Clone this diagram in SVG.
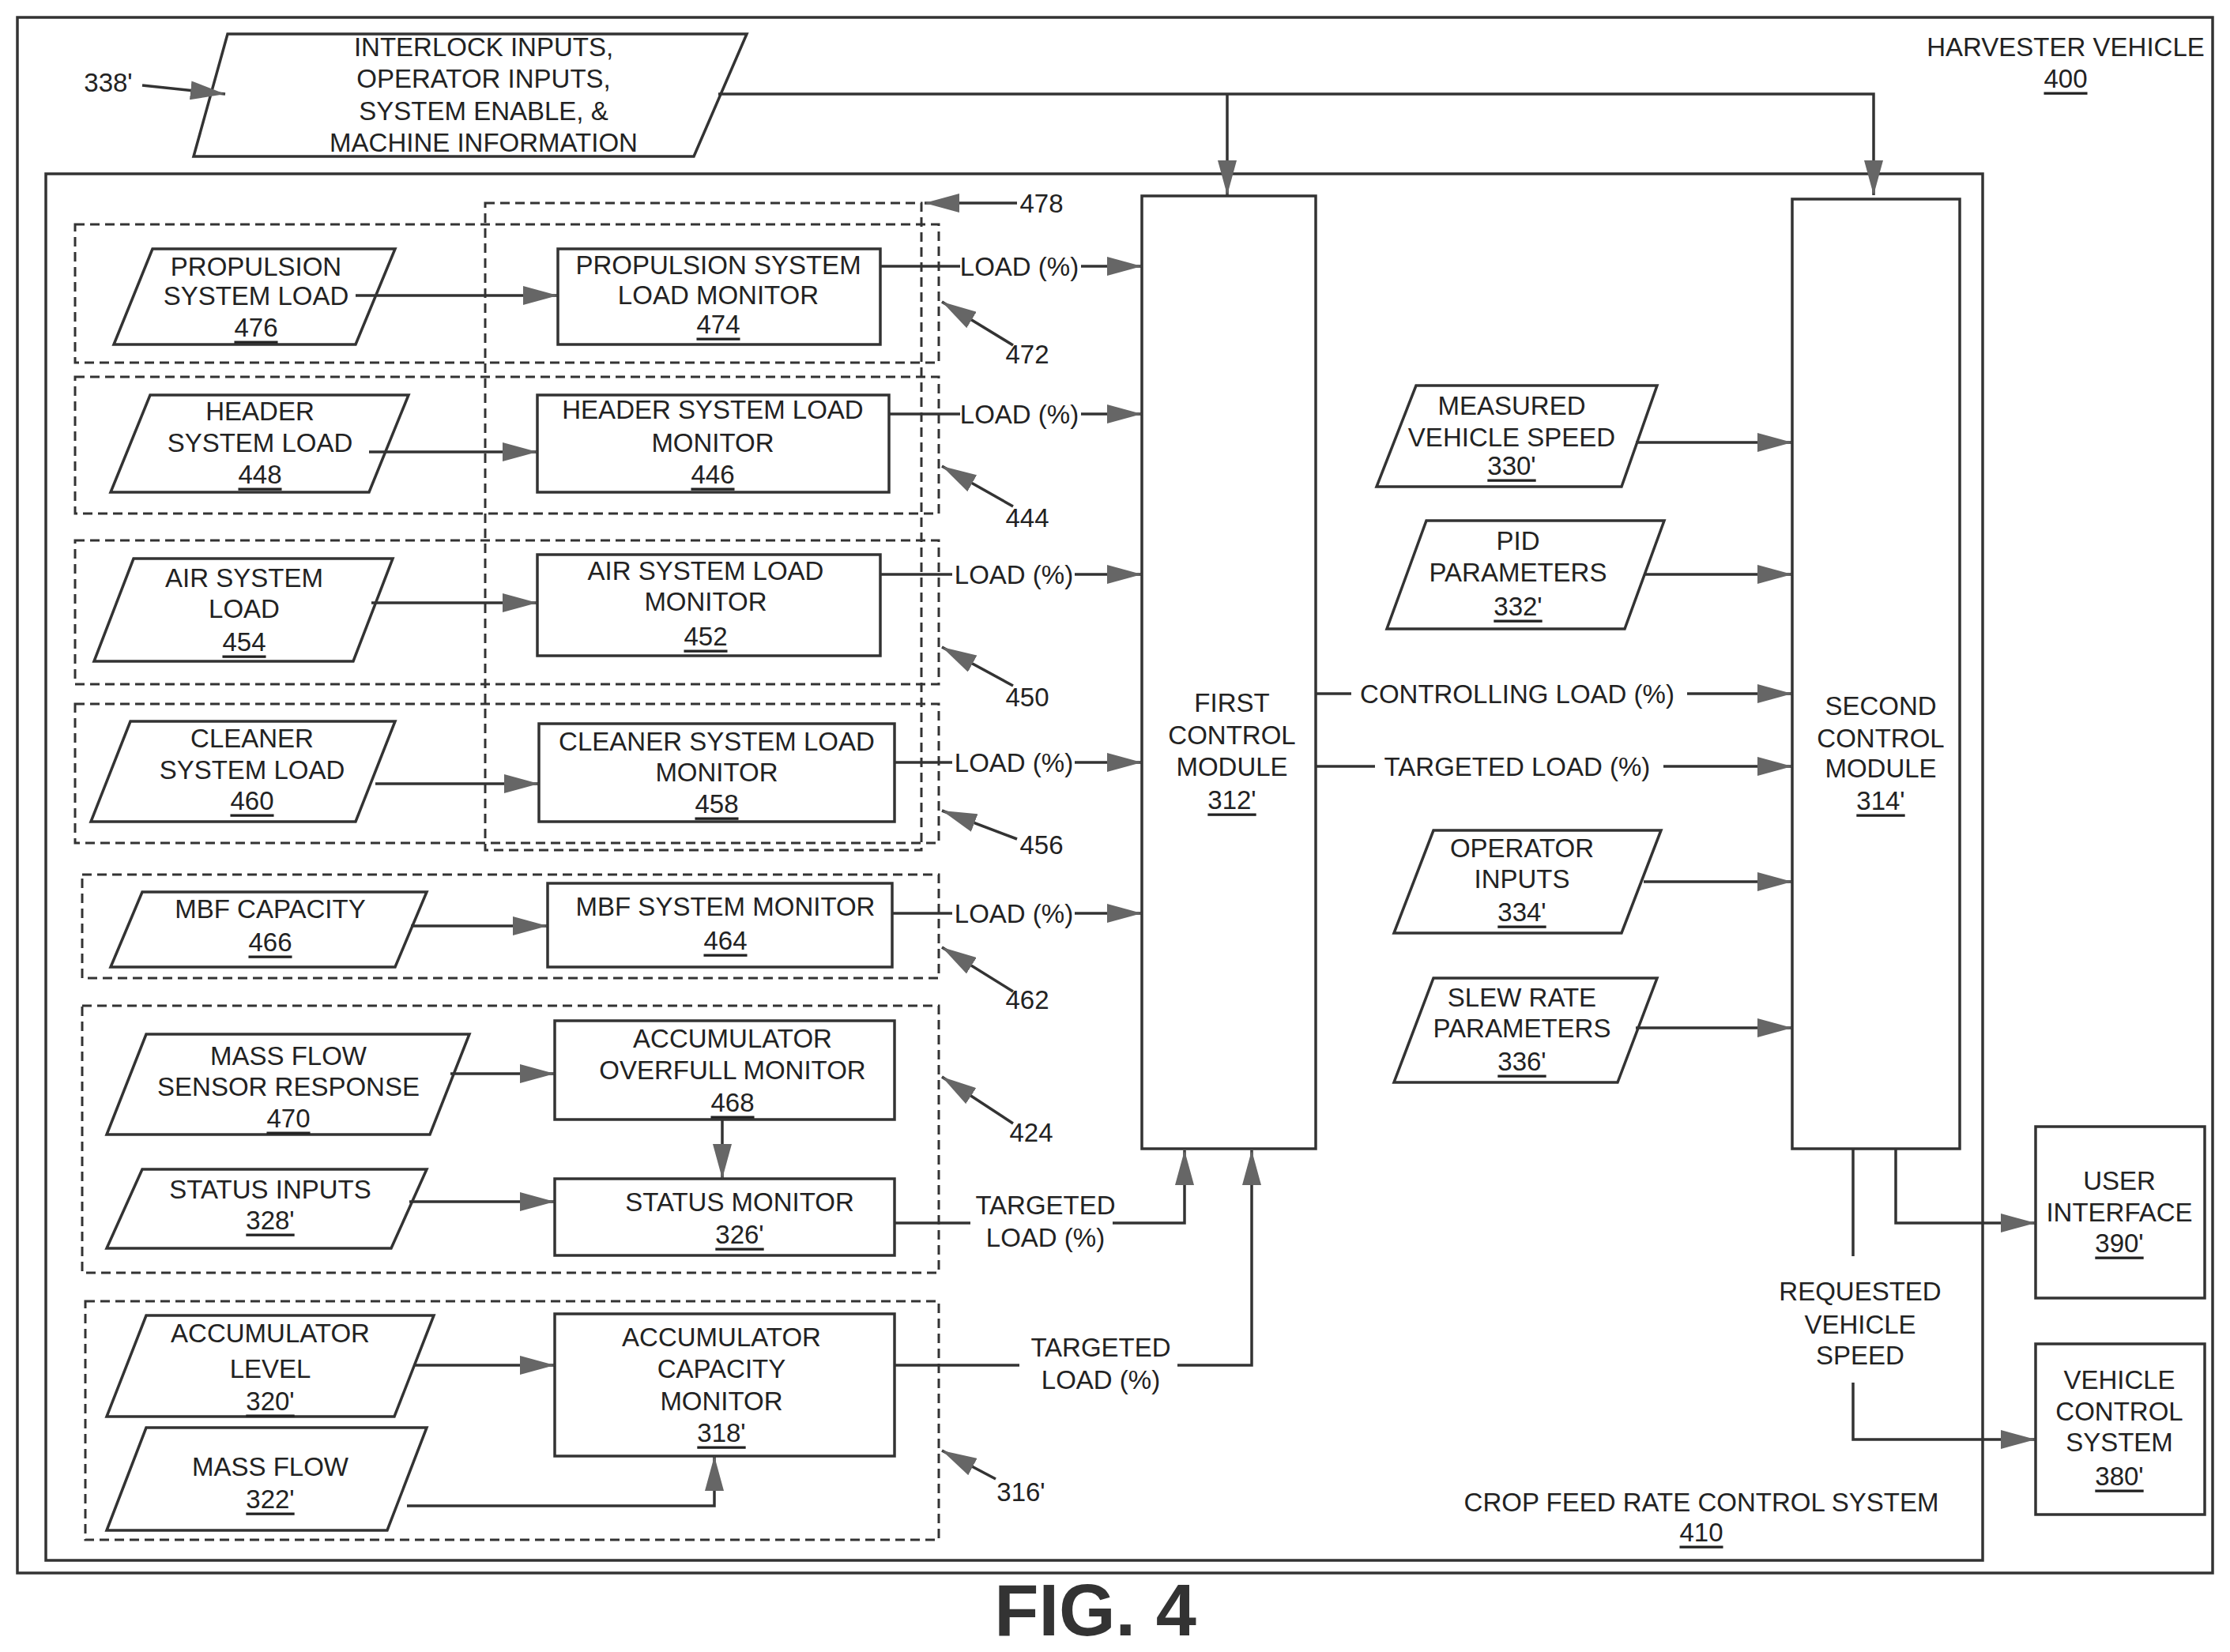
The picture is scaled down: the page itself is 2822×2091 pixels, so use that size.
<svg xmlns="http://www.w3.org/2000/svg" width="2822" height="2091" viewBox="0 0 2822 2091">
<style>
text{font-family:"Liberation Sans",Arial,sans-serif;font-size:33px;fill:#222;text-anchor:middle;dominant-baseline:central}
.b{fill:#fff;stroke:#333;stroke-width:3.5}
.d{fill:none;stroke:#333;stroke-width:3;stroke-dasharray:12 7}
.c{fill:none;stroke:#333;stroke-width:3.5}
.u{text-decoration:underline}
</style>
<defs>
<marker id="m" viewBox="0 0 10 10" refX="10" refY="5" markerWidth="44" markerHeight="24" markerUnits="userSpaceOnUse" orient="auto" preserveAspectRatio="none"><path d="M0,0L10,5L0,10z" fill="#666"/></marker></defs>
<rect x="22" y="22" width="2778" height="1969" class="c" fill="none"/>
<rect x="58" y="220" width="2451" height="1755" class="c" fill="none"/>
<text x="2614" y="59">HARVESTER VEHICLE</text><text x="2614" y="99" class="u">400</text>
<text x="2153" y="1901">CROP FEED RATE CONTROL SYSTEM</text><text x="2153" y="1939" class="u">410</text>
<text x="1386" y="2038" style="font-size:92px;font-weight:bold;fill:#333">FIG. 4</text>
<g id="groups">
<rect x="614" y="257" width="552" height="819" class="d"/>
<rect x="95" y="284" width="1093" height="175" class="d"/>
<rect x="95" y="477" width="1093" height="173" class="d"/>
<rect x="95" y="684" width="1093" height="182" class="d"/>
<rect x="95" y="891" width="1093" height="176" class="d"/>
<rect x="104" y="1107" width="1084" height="131" class="d"/>
<rect x="104" y="1273" width="1084" height="338" class="d"/>
<rect x="108" y="1647" width="1080" height="302" class="d"/>
</g>
<g id="n338"><polygon points="288,43 945,43 878,198 245,198" class="b"/><text x="612" y="59">INTERLOCK INPUTS,</text><text x="612" y="99">OPERATOR INPUTS,</text><text x="612" y="140">SYSTEM ENABLE, &amp;</text><text x="612" y="180">MACHINE INFORMATION</text></g>
<g id="n476"><polygon points="193,315 500,315 450,436 144,436" class="b"/><text x="324" y="337">PROPULSION</text><text x="324" y="374">SYSTEM  LOAD</text><text x="324" y="414" class="u">476</text></g>
<g id="n474"><rect x="706" y="315" width="408" height="121" class="b"/><text x="909" y="335">PROPULSION SYSTEM</text><text x="909" y="373">LOAD MONITOR</text><text x="909" y="410" class="u">474</text></g>
<g id="n448"><polygon points="190,500 517,500 467,623 140,623" class="b"/><text x="329" y="520">HEADER</text><text x="329" y="560">SYSTEM LOAD</text><text x="329" y="600" class="u">448</text></g>
<g id="n446"><rect x="680" y="500" width="445" height="123" class="b"/><text x="902" y="518">HEADER SYSTEM LOAD</text><text x="902" y="560">MONITOR</text><text x="902" y="600" class="u">446</text></g>
<g id="n454"><polygon points="169,707 497,707 447,837 119,837" class="b"/><text x="309" y="731">AIR SYSTEM</text><text x="309" y="770">LOAD</text><text x="309" y="812" class="u">454</text></g>
<g id="n452"><rect x="680" y="702" width="434" height="128" class="b"/><text x="893" y="722">AIR SYSTEM LOAD</text><text x="893" y="761">MONITOR</text><text x="893" y="805" class="u">452</text></g>
<g id="n460"><polygon points="165,913 500,913 450,1040 115,1040" class="b"/><text x="319" y="934">CLEANER</text><text x="319" y="974">SYSTEM LOAD</text><text x="319" y="1013" class="u">460</text></g>
<g id="n458"><rect x="682" y="916" width="450" height="124" class="b"/><text x="907" y="938">CLEANER SYSTEM LOAD</text><text x="907" y="977">MONITOR</text><text x="907" y="1017" class="u">458</text></g>
<g id="n466"><polygon points="180,1129 540,1129 500,1224 140,1224" class="b"/><text x="342" y="1150">MBF CAPACITY</text><text x="342" y="1192" class="u">466</text></g>
<g id="n464"><rect x="693" y="1118" width="436" height="106" class="b"/><text x="918" y="1147">MBF SYSTEM MONITOR</text><text x="918" y="1190" class="u">464</text></g>
<g id="n470"><polygon points="185,1309 594,1309 544,1436 135,1436" class="b"/><text x="365" y="1336">MASS FLOW</text><text x="365" y="1375">SENSOR RESPONSE</text><text x="365" y="1415" class="u">470</text></g>
<g id="n468"><rect x="702" y="1292" width="430" height="125" class="b"/><text x="927" y="1314">ACCUMULATOR</text><text x="927" y="1354">OVERFULL MONITOR</text><text x="927" y="1395" class="u">468</text></g>
<g id="n328"><polygon points="180,1480 540,1480 495,1580 135,1580" class="b"/><text x="342" y="1505">STATUS INPUTS</text><text x="342" y="1544" class="u">328'</text></g>
<g id="n326"><rect x="702" y="1492" width="430" height="97" class="b"/><text x="936" y="1521">STATUS MONITOR</text><text x="936" y="1562" class="u">326'</text></g>
<g id="n320"><polygon points="185,1665 549,1665 499,1793 135,1793" class="b"/><text x="342" y="1687">ACCUMULATOR</text><text x="342" y="1732">LEVEL</text><text x="342" y="1773" class="u">320'</text></g>
<g id="n322"><polygon points="185,1807 540,1807 490,1937 135,1937" class="b"/><text x="342" y="1856">MASS FLOW</text><text x="342" y="1897" class="u">322'</text></g>
<g id="n318"><rect x="702" y="1663" width="430" height="180" class="b"/><text x="913" y="1692">ACCUMULATOR</text><text x="913" y="1732">CAPACITY</text><text x="913" y="1773">MONITOR</text><text x="913" y="1813" class="u">318'</text></g>
<g id="n312"><rect x="1445" y="248" width="220" height="1206" class="b"/><text x="1559" y="889">FIRST</text><text x="1559" y="930">CONTROL</text><text x="1559" y="970">MODULE</text><text x="1559" y="1012" class="u">312'</text></g>
<g id="n314"><rect x="2268" y="252" width="212" height="1202" class="b"/><text x="2380" y="893">SECOND</text><text x="2380" y="934">CONTROL</text><text x="2380" y="972">MODULE</text><text x="2380" y="1013" class="u">314'</text></g>
<g id="n330"><polygon points="1792,488 2097,488 2052,616 1742,616" class="b"/><text x="1913" y="513">MEASURED</text><text x="1913" y="553">VEHICLE SPEED</text><text x="1913" y="589" class="u">330'</text></g>
<g id="n332"><polygon points="1805,659 2106,659 2056,796 1755,796" class="b"/><text x="1921" y="684">PID</text><text x="1921" y="724">PARAMETERS</text><text x="1921" y="767" class="u">332'</text></g>
<g id="n334"><polygon points="1814,1051 2102,1051 2052,1181 1764,1181" class="b"/><text x="1926" y="1073">OPERATOR</text><text x="1926" y="1112">INPUTS</text><text x="1926" y="1154" class="u">334'</text></g>
<g id="n336"><polygon points="1814,1238 2097,1238 2047,1370 1764,1370" class="b"/><text x="1926" y="1262">SLEW RATE</text><text x="1926" y="1301">PARAMETERS</text><text x="1926" y="1343" class="u">336'</text></g>
<g id="n390"><rect x="2576" y="1426" width="214" height="217" class="b"/><text x="2682" y="1494">USER</text><text x="2682" y="1534">INTERFACE</text><text x="2682" y="1573" class="u">390'</text></g>
<g id="n380"><rect x="2576" y="1701" width="214" height="216" class="b"/><text x="2682" y="1746">VEHICLE</text><text x="2682" y="1786">CONTROL</text><text x="2682" y="1825">SYSTEM</text><text x="2682" y="1868" class="u">380'</text></g>
<g id="connectors">
<path d="M180,108L285,119" class="c" marker-end="url(#m)"/>
<path d="M909,119H2371V247" class="c" marker-end="url(#m)"/>
<path d="M1553,119V247" class="c" marker-end="url(#m)"/>
<path d="M450,374H706" class="c" marker-end="url(#m)"/>
<path d="M467,572H680" class="c" marker-end="url(#m)"/>
<path d="M470,763H680" class="c" marker-end="url(#m)"/>
<path d="M475,992H682" class="c" marker-end="url(#m)"/>
<path d="M520,1172H693" class="c" marker-end="url(#m)"/>
<path d="M570,1359H702" class="c" marker-end="url(#m)"/>
<path d="M518,1521H702" class="c" marker-end="url(#m)"/>
<path d="M914,1417V1492" class="c" marker-end="url(#m)"/>
<path d="M524,1728H702" class="c" marker-end="url(#m)"/>
<path d="M515,1906H904V1843" class="c" marker-end="url(#m)"/>
<path d="M1114,337H1215" class="c"/><path d="M1368,337H1445" class="c" marker-end="url(#m)"/>
<path d="M1125,524H1215" class="c"/><path d="M1368,524H1445" class="c" marker-end="url(#m)"/>
<path d="M1114,727H1205" class="c"/><path d="M1360,727H1445" class="c" marker-end="url(#m)"/>
<path d="M1132,965H1205" class="c"/><path d="M1360,965H1445" class="c" marker-end="url(#m)"/>
<path d="M1129,1156H1205" class="c"/><path d="M1360,1156H1445" class="c" marker-end="url(#m)"/>
<path d="M1132,1548H1228" class="c"/><path d="M1408,1548H1499V1456" class="c" marker-end="url(#m)"/>
<path d="M1132,1728H1290" class="c"/><path d="M1490,1728H1584V1456" class="c" marker-end="url(#m)"/>
<path d="M1665,878H1710" class="c"/><path d="M2135,878H2268" class="c" marker-end="url(#m)"/>
<path d="M1665,970H1740" class="c"/><path d="M2105,970H2268" class="c" marker-end="url(#m)"/>
<path d="M2070,560H2268" class="c" marker-end="url(#m)"/>
<path d="M2080,727H2268" class="c" marker-end="url(#m)"/>
<path d="M2080,1116H2268" class="c" marker-end="url(#m)"/>
<path d="M2070,1301H2268" class="c" marker-end="url(#m)"/>
<path d="M2399,1454V1548H2576" class="c" marker-end="url(#m)"/>
<path d="M2345,1454V1590" class="c"/><path d="M2345,1750V1822H2576" class="c" marker-end="url(#m)"/>
<path d="M1287,257H1170" class="c" marker-end="url(#m)"/>
<path d="M1282,437L1192,382" class="c" marker-end="url(#m)"/>
<path d="M1282,641L1192,590" class="c" marker-end="url(#m)"/>
<path d="M1282,868L1192,819" class="c" marker-end="url(#m)"/>
<path d="M1287,1062L1192,1026" class="c" marker-end="url(#m)"/>
<path d="M1282,1255L1192,1199" class="c" marker-end="url(#m)"/>
<path d="M1282,1422L1192,1363" class="c" marker-end="url(#m)"/>
<path d="M1260,1872L1192,1836" class="c" marker-end="url(#m)"/>
</g>
<g id="labels">
<text x="137" y="104">338'</text>
<text x="1290" y="337">LOAD (%)</text><text x="1290" y="524">LOAD (%)</text><text x="1283" y="727">LOAD (%)</text><text x="1283" y="965">LOAD (%)</text><text x="1283" y="1156">LOAD (%)</text>
<text x="1323" y="1525">TARGETED</text><text x="1323" y="1566">LOAD (%)</text>
<text x="1393" y="1705">TARGETED</text><text x="1393" y="1746">LOAD (%)</text>
<text x="1920" y="878">CONTROLLING LOAD (%)</text><text x="1920" y="970">TARGETED LOAD (%)</text>
<text x="2354" y="1634">REQUESTED</text><text x="2354" y="1676">VEHICLE</text><text x="2354" y="1715">SPEED</text>
<text x="1318" y="257">478</text><text x="1300" y="448">472</text><text x="1300" y="655">444</text><text x="1300" y="882">450</text><text x="1318" y="1069">456</text><text x="1300" y="1265">462</text><text x="1305" y="1433">424</text><text x="1292" y="1888">316'</text>
</g>
</svg>
